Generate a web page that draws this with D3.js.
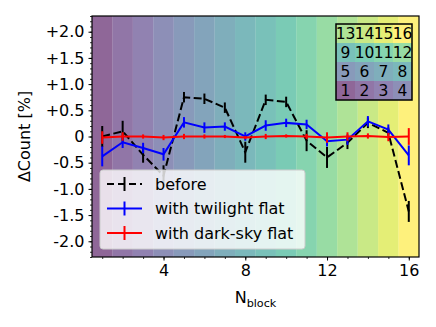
<!DOCTYPE html>
<html>
<head>
<meta charset="utf-8">
<script src="https://cdn.jsdelivr.net/npm/d3@7"></script>
<style>
  body { margin: 0; background: #fff; }
  svg { font-family: "DejaVu Sans", sans-serif; }
</style>
</head>
<body>
<div id="chart"></div>
<script>
// block index on the x axis
const blocks = [1, 2, 3, 4, 5, 6, 7, 8, 9, 10, 11, 12, 13, 14, 15, 16];

// delta count [%] per block
const before      = [0.00, 0.10, -0.35, -0.75, 0.75, 0.72, 0.55, -0.30, 0.70, 0.66, -0.08, -0.40, -0.12, 0.26, 0.07, -1.43];
const beforeErr   = [0.20, 0.20, 0.15, 0.20, 0.10, 0.10, 0.10, 0.20, 0.10, 0.10, 0.20, 0.20, 0.12, 0.10, 0.10, 0.20];
const twilight    = [-0.38, -0.11, -0.22, -0.34, 0.27, 0.17, 0.19, 0.00, 0.21, 0.26, 0.23, -0.09, -0.06, 0.29, 0.13, -0.36];
const twilightErr = [0.19, 0.11, 0.10, 0.12, 0.10, 0.10, 0.08, 0.08, 0.10, 0.08, 0.09, 0.10, 0.10, 0.10, 0.10, 0.19];
const darksky     = [-0.02, 0.00, 0.00, -0.02, 0.00, 0.00, 0.00, -0.02, 0.00, 0.01, 0.00, -0.02, 0.00, 0.01, -0.01, 0.00];
const darkskyErr  = [0.12, 0.08, 0.04, 0.05, 0.05, 0.04, 0.03, 0.03, 0.05, 0.03, 0.05, 0.10, 0.08, 0.05, 0.08, 0.16];

const yTicks = [-2.0, -1.5, -1.0, -0.5, 0, 0.5, 1.0, 1.5, 2.0];
const xTicks = [4, 8, 12, 16];
// inset layout of the blocks, top row first
const insetRows = [[13, 14, 15, 16], [9, 10, 11, 12], [5, 6, 7, 8], [1, 2, 3, 4]];

const series = [
  { name: 'before', values: before, err: beforeErr, color: '#000', dash: '8,3.5' },
  { name: 'with twilight flat', values: twilight, err: twilightErr, color: '#0000ff', dash: null },
  { name: 'with dark-sky flat', values: darksky, err: darkskyErr, color: '#ff0000', dash: null },
];

const W = 436, H = 327;
const margin = { top: 16, right: 17, bottom: 70, left: 92 };
const FS = 16;

const svg = d3.select('#chart').append('svg')
  .attr('width', W).attr('height', H);

const x = d3.scaleLinear().domain([0.5, 16.5]).range([margin.left, W - margin.right]);
const y = d3.scaleLinear().domain([-2.3, 2.3]).range([H - margin.bottom, margin.top]);

const blockColor = b => d3.interpolateViridis((b - 1) / 15);

// background bands, one per block
svg.append('g')
  .selectAll('rect')
  .data(blocks)
  .join('rect')
  .attr('x', d => x(d - 0.5))
  .attr('y', y(2.3))
  .attr('width', d => x(d + 0.5) - x(d - 0.5))
  .attr('height', y(-2.3) - y(2.3))
  .attr('fill', d => blockColor(d))
  .attr('fill-opacity', 0.6);

// axes
const yMinor = d3.range(-23, 24).map(d => d / 10);
svg.append('g')
  .attr('transform', `translate(${margin.left},0)`)
  .call(d3.axisLeft(y).tickValues(yMinor).tickSize(2).tickFormat(''))
  .call(g => g.select('.domain').remove())
  .call(g => g.selectAll('line').attr('stroke', '#000').attr('stroke-width', 0.8));

svg.append('g')
  .attr('transform', `translate(${margin.left},0)`)
  .call(d3.axisLeft(y).tickValues(yTicks).tickSize(3.5).tickPadding(4)
    .tickFormat(d => d === 0 ? '0' : (d > 0 ? '+' : '-') + Math.abs(d).toFixed(1)))
  .call(g => g.select('.domain').remove())
  .call(g => g.selectAll('line').attr('stroke', '#000').attr('stroke-width', 1))
  .call(g => g.selectAll('text').attr('font-size', FS).attr('fill', '#000')
    .attr('font-family', '"DejaVu Sans", sans-serif'));

svg.append('g')
  .attr('transform', `translate(0,${H - margin.bottom})`)
  .call(d3.axisBottom(x).tickValues(blocks).tickSize(2).tickFormat(''))
  .call(g => g.select('.domain').remove())
  .call(g => g.selectAll('line').attr('stroke', '#000').attr('stroke-width', 0.8));

svg.append('g')
  .attr('transform', `translate(0,${H - margin.bottom})`)
  .call(d3.axisBottom(x).tickValues(xTicks).tickSize(3.5).tickPadding(4))
  .call(g => g.select('.domain').remove())
  .call(g => g.selectAll('line').attr('stroke', '#000').attr('stroke-width', 1))
  .call(g => g.selectAll('text').attr('font-size', FS).attr('fill', '#000')
    .attr('font-family', '"DejaVu Sans", sans-serif'));

// axis labels
svg.append('text')
  .attr('transform', `translate(30,${(y(2.3) + y(-2.3)) / 2}) rotate(-90)`)
  .attr('text-anchor', 'middle')
  .attr('font-size', FS)
  .text('ΔCount [%]');

const xl = svg.append('text')
  .attr('x', (x(0.5) + x(16.5)) / 2)
  .attr('y', H - 24)
  .attr('text-anchor', 'middle')
  .attr('font-size', FS);
xl.append('tspan').text('N');
xl.append('tspan').attr('font-size', FS * 0.7).attr('dy', 4).text('block');

// error bars and lines
const line = d3.line().x((d, i) => x(blocks[i])).y(d => y(d));

series.forEach(s => {
  const g = svg.append('g');
  g.selectAll('line')
    .data(s.values)
    .join('line')
    .attr('x1', (d, i) => x(blocks[i]))
    .attr('x2', (d, i) => x(blocks[i]))
    .attr('y1', (d, i) => y(d - s.err[i]))
    .attr('y2', (d, i) => y(d + s.err[i]))
    .attr('stroke', s.color)
    .attr('stroke-width', 2);
  g.append('path')
    .datum(s.values)
    .attr('d', line)
    .attr('fill', 'none')
    .attr('stroke', s.color)
    .attr('stroke-width', 2)
    .attr('stroke-dasharray', s.dash);
});

// frame
svg.append('rect')
  .attr('x', x(0.5)).attr('y', y(2.3))
  .attr('width', x(16.5) - x(0.5)).attr('height', y(-2.3) - y(2.3))
  .attr('fill', 'none').attr('stroke', '#000').attr('stroke-width', 1.2);

// legend
const leg = svg.append('g').attr('transform', 'translate(100,170)');
leg.append('rect')
  .attr('width', 205).attr('height', 79).attr('rx', 3)
  .attr('fill', '#fff').attr('fill-opacity', 0.8)
  .attr('stroke', '#ccc').attr('stroke-width', 1);
series.forEach((s, i) => {
  const row = leg.append('g').attr('transform', `translate(0,${14 + i * 24.5})`);
  row.append('line')
    .attr('x1', 7).attr('x2', 42)
    .attr('stroke', s.color).attr('stroke-width', 2)
    .attr('stroke-dasharray', s.dash ? '7,4' : null);
  row.append('line')
    .attr('x1', 24.5).attr('x2', 24.5).attr('y1', -7).attr('y2', 7)
    .attr('stroke', s.color).attr('stroke-width', 2);
  row.append('text')
    .attr('x', 55).attr('dy', '0.35em')
    .attr('font-size', FS)
    .text(s.name);
});

// inset showing block layout
const inset = { x: 336, y: 24, size: 76 };
const col = d3.scaleBand().domain([0, 1, 2, 3]).range([inset.x, inset.x + inset.size]);
const rowS = d3.scaleBand().domain([0, 1, 2, 3]).range([inset.y, inset.y + inset.size]);
const cells = insetRows.flatMap((r, ri) => r.map((b, ci) => ({ b, ri, ci })));
const ins = svg.append('g');
ins.append('rect')
  .attr('x', inset.x).attr('y', inset.y)
  .attr('width', inset.size).attr('height', inset.size)
  .attr('fill', '#fff');
ins.selectAll('rect.cell')
  .data(cells)
  .join('rect')
  .attr('class', 'cell')
  .attr('x', d => col(d.ci)).attr('y', d => rowS(d.ri))
  .attr('width', col.bandwidth()).attr('height', rowS.bandwidth())
  .attr('fill', d => blockColor(d.b)).attr('fill-opacity', 0.6);
ins.selectAll('text')
  .data(cells)
  .join('text')
  .attr('x', d => col(d.ci) + col.bandwidth() / 2)
  .attr('y', d => rowS(d.ri) + rowS.bandwidth() / 2)
  .attr('dy', '0.36em')
  .attr('text-anchor', 'middle')
  .attr('font-size', 15.5)
  .text(d => d.b);
ins.append('rect')
  .attr('x', inset.x).attr('y', inset.y)
  .attr('width', inset.size).attr('height', inset.size)
  .attr('fill', 'none').attr('stroke', '#000').attr('stroke-width', 1.5);
</script>
</body>
</html>
